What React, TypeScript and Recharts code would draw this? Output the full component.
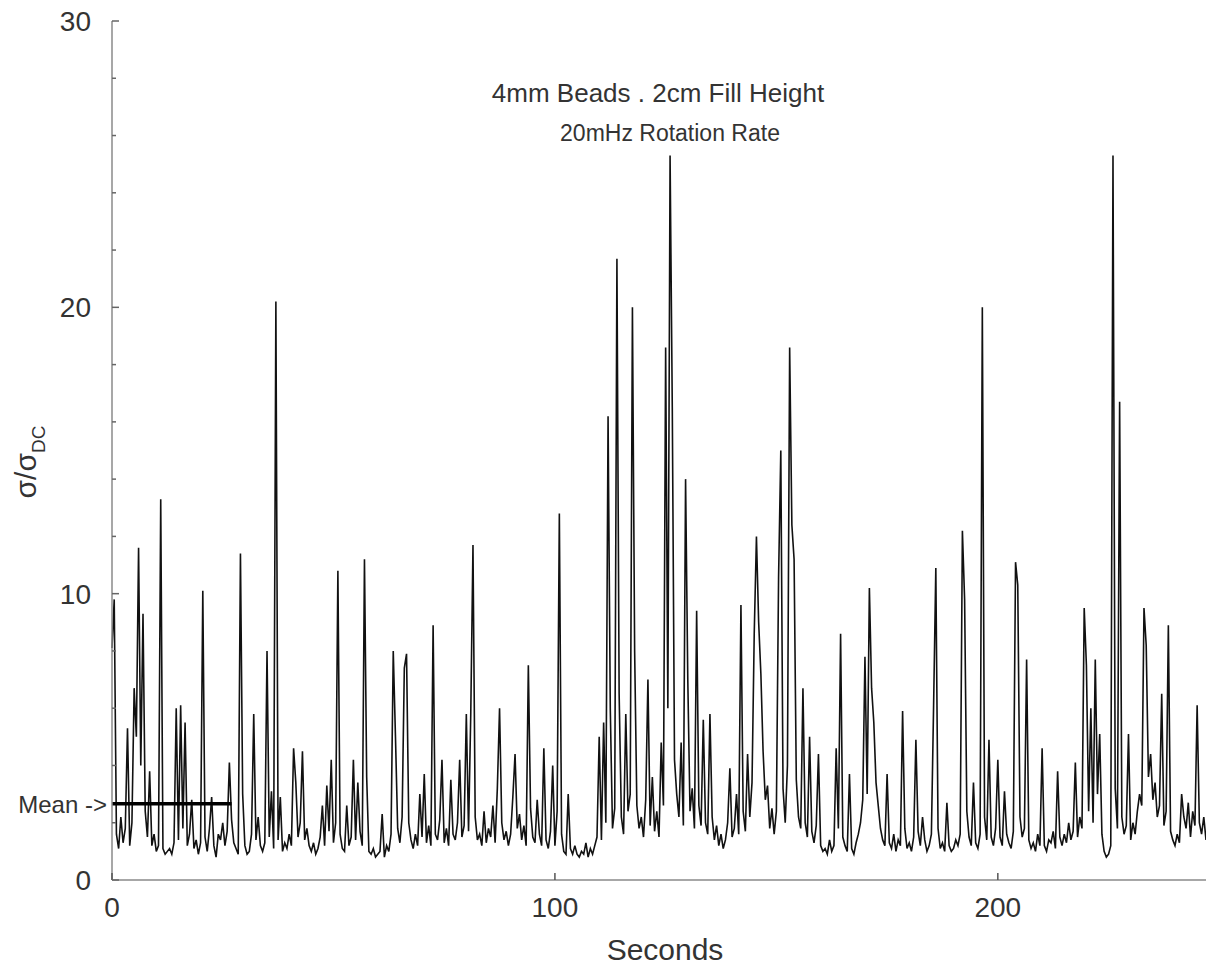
import React from "react";
import { LineChart, Line, XAxis, YAxis, ReferenceLine } from "recharts";

const STEP = 0.5;

// 0 - 49.5 s
const trace0 = [
  8.1, 9.8, 1.6, 1.1, 2.2, 1.3, 1.8, 5.3, 1.2, 2.0,
  6.7, 5.0, 11.6, 4.0, 9.3, 2.4, 1.5, 3.8, 1.2, 1.6,
  1.0, 1.2, 13.3, 1.1, 0.9, 1.0, 1.1, 0.9, 1.3, 6.0,
  1.4, 6.1, 1.8, 5.5, 1.2, 1.6, 2.8, 1.1, 1.4, 0.9,
  1.3, 10.1, 1.5, 1.0, 1.8, 2.9, 1.2, 0.8, 1.6, 1.4,
  2.0, 1.2, 1.7, 4.1, 2.1, 1.3, 1.1, 0.9, 11.4, 3.0,
  1.2, 0.9, 1.0, 1.6, 5.8, 1.4, 2.2, 1.2, 1.0, 1.3,
  8.0, 1.5, 3.1, 1.1, 20.2, 1.4, 2.9, 1.0, 1.3, 1.1,
  1.6, 1.2, 4.6, 3.4, 1.5, 2.0, 4.5, 1.4, 1.8, 1.2,
  1.0, 1.3, 0.9, 1.1, 1.5, 2.6, 1.2, 3.3, 1.7, 4.2,
];

// 50 - 99.5 s
const trace1 = [
  1.3, 2.0, 10.8, 1.6, 1.1, 1.0, 2.6, 1.2, 1.5, 4.2,
  1.4, 3.4, 1.7, 1.2, 11.2, 3.6, 1.0, 0.9, 1.1, 0.8,
  0.9, 1.0, 2.3, 0.8, 1.2, 1.0, 1.6, 8.0, 5.0, 1.8,
  1.3, 2.2, 7.4, 7.9, 2.0, 1.4, 1.1, 1.6, 1.2, 3.0,
  1.5, 3.7, 1.3, 1.9, 1.2, 8.9, 1.6, 1.4, 2.1, 4.2,
  1.3, 1.8, 1.2, 3.5, 1.6, 1.4, 2.0, 4.2, 1.5, 1.9,
  5.8, 1.7, 5.8, 11.7, 2.2, 1.4, 1.6, 1.2, 2.4, 1.3,
  1.8, 1.5, 2.6, 1.3, 3.2, 6.0, 2.0, 1.4, 1.7, 1.2,
  1.6, 2.9, 4.4, 1.8, 2.3, 1.4, 1.9, 1.2, 7.5, 2.5,
  1.5, 1.3, 2.8, 1.6, 1.2, 4.6, 1.4, 1.1, 1.7, 4.0,
];

// 100 - 149.5 s
const trace2 = [
  1.2, 2.4, 12.8, 1.6, 1.0, 0.9, 3.0, 1.1, 0.9, 1.2,
  0.9, 0.8, 1.0, 0.9, 1.3, 0.8, 1.1, 0.9, 1.2, 1.5,
  5.0, 1.4, 5.5, 2.0, 16.2, 6.0, 1.8, 2.5, 21.7, 6.5,
  2.2, 1.6, 5.8, 2.4, 3.0, 20.0, 8.0, 2.6, 1.8, 2.2,
  1.5, 2.8, 7.0, 1.9, 3.6, 1.7, 2.4, 1.5, 4.8, 2.6,
  18.6, 6.0, 25.3, 16.5, 4.2, 3.0, 2.2, 4.8, 1.9, 14.0,
  7.0, 2.4, 3.2, 1.8, 9.4, 2.6, 1.9, 5.6, 2.0, 1.6,
  5.8, 2.2, 1.4, 1.9, 1.2, 1.6, 1.1, 1.4, 2.0, 3.9,
  1.5, 1.8, 3.0, 1.6, 9.6, 2.4, 1.7, 4.4, 2.2, 3.4,
  8.6, 12.0, 9.0, 7.2, 4.5, 2.8, 3.3, 1.8, 2.5, 1.6,
];

// 150 - 199.5 s
const trace3 = [
  2.4, 10.6, 15.0, 3.2, 2.0, 4.0, 18.6, 12.4, 11.2, 3.5,
  2.2, 1.8, 6.7, 2.0, 1.5, 5.0, 1.7, 1.3, 1.9, 4.4,
  1.2, 1.0, 1.1, 0.9, 1.4, 1.0, 1.2, 4.6, 1.8, 8.6,
  1.5, 1.2, 1.0, 3.7, 1.1, 0.9, 1.3, 1.6, 2.0, 2.8,
  7.8, 3.0, 10.2, 6.7, 5.5, 3.4, 2.6, 1.8, 1.4, 1.2,
  3.7, 1.3, 1.1, 1.6, 1.0, 1.4, 1.2, 5.9, 1.8, 1.1,
  1.3, 1.0, 1.5, 4.9, 1.7, 1.2, 2.2, 1.4, 1.0, 1.2,
  1.6, 6.1, 10.9, 1.8, 1.1, 1.3, 1.0, 2.7, 1.2, 1.0,
  1.1, 1.4, 1.2, 1.6, 12.2, 9.8, 2.4, 1.5, 1.2, 3.4,
  1.3, 1.1, 1.6, 20.0, 2.2, 1.4, 4.9, 1.5, 1.2, 1.8,
];

// 200 - 247 s
const trace4 = [
  4.2, 1.5, 1.2, 3.1, 1.6, 1.3, 1.1, 1.7, 11.1, 10.3,
  2.2, 1.5, 1.8, 7.7, 1.4, 1.1, 1.3, 1.0, 1.6, 1.2,
  4.6, 1.2, 1.0, 1.4, 1.3, 1.7, 1.1, 3.8, 1.5, 1.2,
  1.6, 1.3, 2.0, 1.4, 1.7, 4.1, 1.5, 2.2, 1.8, 9.5,
  7.5, 2.4, 6.0, 2.0, 7.7, 3.0, 5.1, 1.6, 1.0, 0.8,
  0.9, 1.2, 25.3, 3.2, 1.8, 16.7, 2.2, 1.6, 1.9, 5.1,
  1.4, 2.0, 1.6, 2.4, 3.0, 2.6, 9.5, 8.2, 3.6, 4.4,
  2.8, 3.4, 2.2, 2.6, 6.5, 1.9, 2.4, 8.9, 1.7, 1.4,
  1.2, 1.6, 1.3, 3.0, 2.2, 1.8, 2.7, 1.5, 2.4, 1.9,
  6.1, 2.0, 1.6, 2.2, 1.4,
];

const xTicks = [0, 100, 200];
const yTicks = [0, 2, 4, 6, 8, 10, 12, 14, 16, 18, 20, 22, 24, 26, 28, 30];
const meanValue = 2.66;
const meanSpan = [0, 27];

const samples = [...trace0, ...trace1, ...trace2, ...trace3, ...trace4].map(
  (v, i) => ({ t: i * STEP, v })
);

const FONT = "'Liberation Sans', Arial, sans-serif";
const AXIS = "#8a8a8a";

const YTick = (props: any) => {
  const { x, y, payload } = props;
  const major = payload.value % 10 === 0;
  return (
    <g>
      <line x1={x} x2={x + (major ? 7 : 4)} y1={y} y2={y} stroke="#666" strokeWidth={1.5} />
      {major && (
        <text x={x - 21} y={y + 10} textAnchor="end" fontSize={28} fill="#333" fontFamily={FONT}>
          {payload.value}
        </text>
      )}
    </g>
  );
};

const XTick = (props: any) => {
  const { x, y, payload } = props;
  return (
    <g>
      <line x1={x} x2={x} y1={y} y2={y - 7} stroke="#555" strokeWidth={1.5} />
      <text x={x} y={y + 37} textAnchor="middle" fontSize={28} fill="#333" fontFamily={FONT}>
        {payload.value}
      </text>
    </g>
  );
};

const TopTick = (props: any) => {
  const { x, y } = props;
  return <line x1={x} x2={x} y1={y} y2={y + 7} stroke="#666" strokeWidth={1.5} />;
};

export default function App() {
  return (
    <div style={{ position: "absolute", left: 0, top: 0, width: 1206, height: 967, background: "#fff" }}>
      <LineChart
        width={1206}
        height={967}
        data={samples}
        margin={{ top: 21, right: 0, bottom: 0, left: 0 }}
      >
        <XAxis
          dataKey="t"
          type="number"
          domain={[0, 247]}
          ticks={xTicks}
          interval={0}
          height={87}
          tickSize={0}
          tickMargin={0}
          tickLine={false}
          tick={<XTick />}
          axisLine={{ stroke: AXIS, strokeWidth: 1.5 }}
        />
        <XAxis
          xAxisId="top"
          orientation="top"
          dataKey="t"
          type="number"
          domain={[0, 247]}
          ticks={xTicks}
          interval={0}
          height={0}
          tickSize={0}
          tickMargin={0}
          tickLine={false}
          tick={<TopTick />}
          axisLine={{ stroke: AXIS, strokeWidth: 1.5 }}
        />
        <YAxis
          type="number"
          domain={[0, 30]}
          ticks={yTicks}
          interval={0}
          width={112}
          tickSize={0}
          tickMargin={0}
          tickLine={false}
          tick={<YTick />}
          axisLine={{ stroke: AXIS, strokeWidth: 1.5 }}
        />
        <Line
          type="linear"
          dataKey="v"
          stroke="#111"
          strokeWidth={1.6}
          strokeLinejoin="miter"
          dot={false}
          isAnimationActive={false}
        />
        <ReferenceLine
          segment={[
            { x: meanSpan[0], y: meanValue },
            { x: meanSpan[1], y: meanValue },
          ]}
          stroke="#000"
          strokeWidth={3.5}
          ifOverflow="visible"
        />
      </LineChart>
      <svg
        width={1206}
        height={967}
        style={{ position: "absolute", left: 0, top: 0, pointerEvents: "none" }}
        fontFamily={FONT}
      >
        <text x={658} y={102} textAnchor="middle" fontSize={26} fill="#333">
          4mm Beads . 2cm Fill Height
        </text>
        <text x={670} y={141} textAnchor="middle" fontSize={23} fill="#333">
          20mHz Rotation Rate
        </text>
        <text x={665} y={960} textAnchor="middle" fontSize={30} fill="#333">
          Seconds
        </text>
        <text x={107} y={813} textAnchor="end" fontSize={24} fill="#333">
          Mean -&gt;
        </text>
        <text x={36} y={462} textAnchor="middle" fontSize={30} fill="#333" transform="rotate(-90 36 462)">
          σ/σ<tspan fontSize={19} dy={9}>DC</tspan>
        </text>
      </svg>
    </div>
  );
}
